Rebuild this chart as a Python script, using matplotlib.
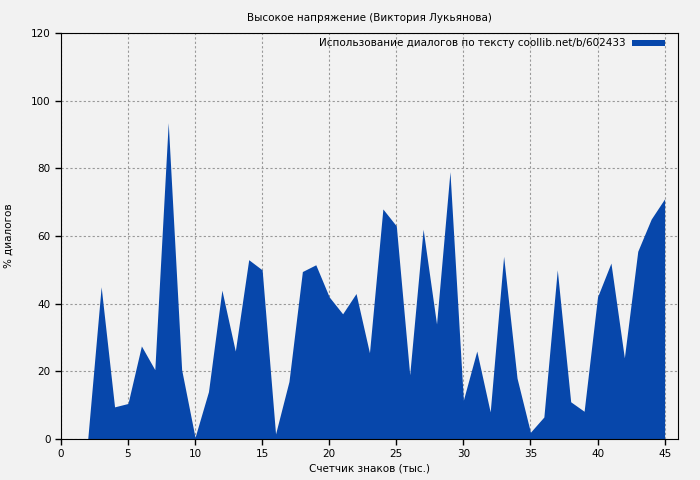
import numpy as np
import matplotlib
matplotlib.use('Agg')
import matplotlib.pyplot as plt

# characters count (thousands) and share of dialogues, %
chars_k = [2, 3, 4, 5, 6, 7, 8, 9, 10, 11, 12, 13, 14, 15, 16, 17, 18, 19, 20, 21, 22, 23,
           24, 25, 26, 27, 28, 29, 30, 31, 32, 33, 34, 35, 36, 37, 38, 39, 40, 41, 42, 43, 44, 45]
dialog_pct = [0, 45, 9.5, 10.5, 27.5, 20.5, 93.5, 20.5, 0.5, 14, 44, 26, 53, 50, 1.5, 17, 49.5,
              51.5, 42, 37, 43, 25.5, 68, 63, 19, 62, 34, 79, 11.5, 26, 8, 54, 18, 2, 6.5, 50,
              11, 8.2, 42, 52, 24, 55.5, 65, 71]

title = 'Высокое напряжение (Виктория Лукьянова)'
legend_label = 'Использование диалогов по тексту coollib.net/b/602433'
x_ticks = [0, 5, 10, 15, 20, 25, 30, 35, 40, 45]
y_ticks = [0, 20, 40, 60, 80, 100, 120]

bg = '#f2f2f2'
blue = '#0747ab'

plt.rcParams['font.family'] = ['DejaVu Sans']
plt.rcParams['font.size'] = 7.5

fig = plt.figure(figsize=(7, 4.8), dpi=100, facecolor=bg)
ax = fig.add_axes([0.087, 0.0854, 0.8816, 0.8458], facecolor=bg)

ax.fill_between(chars_k, dialog_pct, 0, color=blue, linewidth=0, label=legend_label)

ax.set_xlim(0, 46)
ax.set_ylim(0, 120)
ax.set_xticks(x_ticks)
ax.set_yticks(y_ticks)
ax.tick_params(direction='out', length=4, width=1)
ax.grid(True, color='#999999', linestyle=(0, (2, 2)), linewidth=0.8)
ax.set_axisbelow(True)

ax.set_title(title, fontsize=7.5, pad=9)
ax.set_xlabel('Счетчик знаков (тыс.)', labelpad=3)
ax.set_ylabel('% диалогов', labelpad=12)

leg = ax.legend(loc='upper right', bbox_to_anchor=(0.9854, 0.9968), frameon=False,
                markerfirst=False, handlelength=3.2, handleheight=0.5,
                borderaxespad=0, handletextpad=0.6)

fig.savefig('out.png', dpi=100, facecolor=bg)
